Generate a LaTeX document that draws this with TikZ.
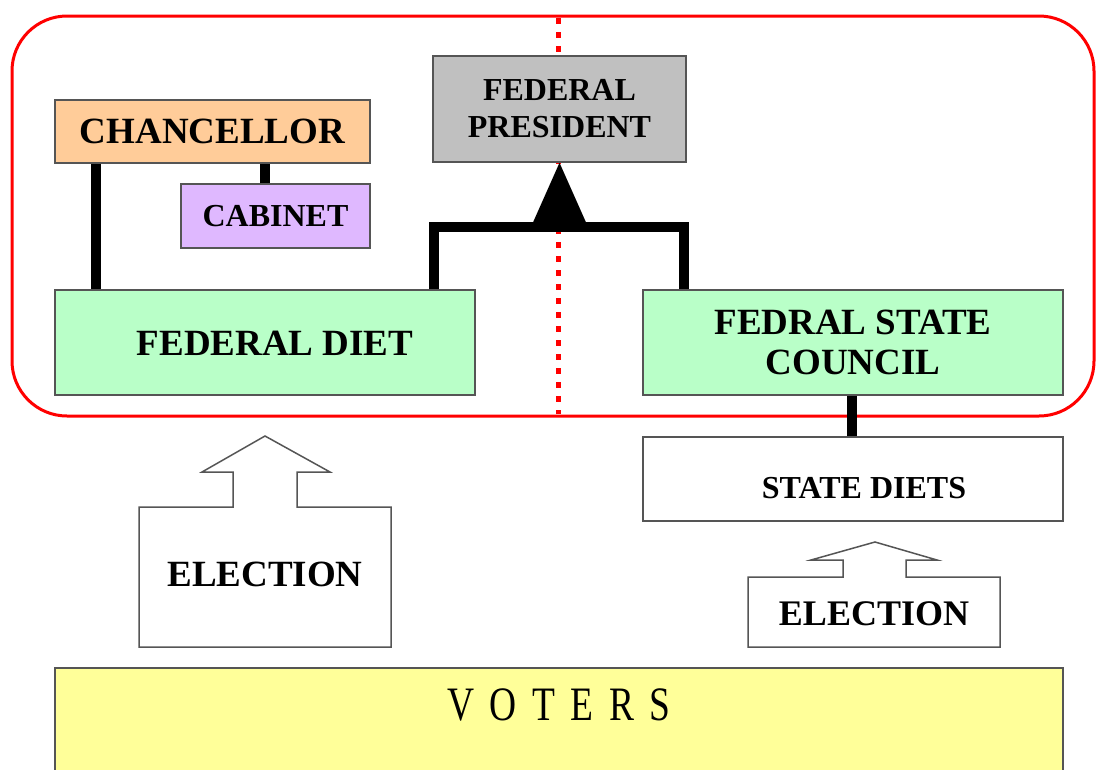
\documentclass[tikz,border=0pt]{standalone}
\usepackage{fontspec}
\setmainfont{Liberation Serif}
\definecolor{chancfill}{HTML}{FFCC99}
\definecolor{cabfill}{HTML}{DFB8FF}
\definecolor{bodyfill}{HTML}{B9FFC8}
\definecolor{presfill}{HTML}{C0C0C0}
\definecolor{voterfill}{HTML}{FFFF99}
\definecolor{edge}{HTML}{555555}
\begin{document}
\begin{tikzpicture}[x=1pt,y=-1pt,
  box/.style={draw=edge, line width=1.5pt, inner sep=0pt, align=center, font=\bfseries},
  link/.style={line width=10pt, line join=miter},
  ballot/.style={draw=edge, line width=1.5pt, fill=white, line join=miter},
  fs/.style={font=\bfseries\fontsize{#1}{#1}\selectfont}]
\clip (0,0) rectangle (1098,769);

% federal level frame and its dividing line
\draw[red, line width=5pt, dash pattern=on 6pt off 8pt] (558,18) -- (558,414);
\draw[red, line width=3pt, rounded corners=55pt] (12,16) rectangle (1094,416);

% organs
\node[box, fill=chancfill, minimum width=315pt, minimum height=63pt, fs=37] (chanc) at (212.5,131.5) {CHANCELLOR};
\node[box, fill=cabfill, minimum width=189pt, minimum height=64pt, fs=32] (cab) at (275.5,216) {CABINET};
\node[box, fill=presfill, minimum width=253pt, minimum height=106pt, font=\bfseries\fontsize{32}{37}\selectfont] (pres) at (559.5,109) {FEDERAL\\PRESIDENT};
\node[box, fill=bodyfill, minimum width=420pt, minimum height=105pt, fs=37] (fdiet) at (265,342.5) {\hspace*{20pt}\smash{\raisebox{-13pt}{FEDERAL DIET}}};
\node[box, fill=bodyfill, minimum width=420pt, minimum height=105pt, font=\bfseries\fontsize{37}{40}\selectfont] (council) at (853,342.5) {FEDRAL STATE\\COUNCIL};
\node[box, fill=white, minimum width=420pt, minimum height=84pt, fs=32] (sdiet) at (853,479) {\hspace*{22pt}\smash{\raisebox{-19.5pt}{STATE DIETS}}};
\node[box, fill=voterfill, minimum width=1008pt, minimum height=130pt, font=\fontsize{48}{48}\selectfont] (voters) at (559,733)
  {\smash{\raisebox{13pt}{\scalebox{0.78}[1]{V\hspace{20pt}O\hspace{20pt}T\hspace{20pt}E\hspace{20pt}R\hspace{20pt}S}}}};

% links between organs
\draw[link] ([xshift=42pt]chanc.south west) -- ([xshift=42pt]fdiet.north west);
\draw[link] ([xshift=-10.5pt]cab.north) -- ([xshift=-10.5pt]cab.north |- chanc.south);
\coordinate (bar) at (558,227);
\draw[link] ([xshift=-42pt]fdiet.north east) |- (bar) -| ([xshift=42pt]council.north west);
\fill (pres.south) -- ++(-28,63) -- ++(56,0) -- cycle;
\draw[link] ([xshift=-1pt]council.south) -- ([xshift=-1pt]sdiet.north);

% elections
\draw[ballot] (139,647) -- (139,507) -- (233,507) -- (233,472) -- (202,472) -- (265,436)
  -- (330,472) -- (297,472) -- (297,507) -- (391,507) -- (391,647) -- cycle;
\node[fs=37] (elecF) at (265,574) {ELECTION};
\draw[ballot] (748,647) -- (748,577) -- (843,577) -- (843,560) -- (811,560) -- (875,542)
  -- (937,560) -- (906,560) -- (906,577) -- (1000,577) -- (1000,647) -- cycle;
\node[fs=36] (elecS) at (874,614) {ELECTION};
\end{tikzpicture}
\end{document}
